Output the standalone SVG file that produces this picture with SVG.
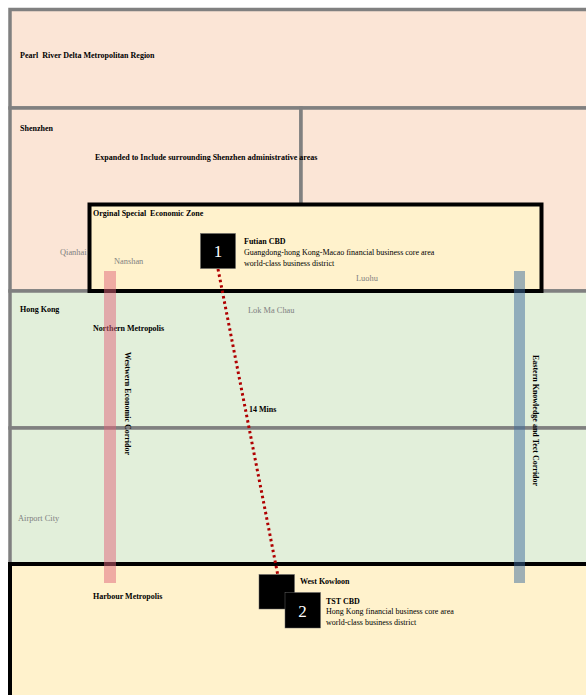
<svg xmlns="http://www.w3.org/2000/svg" width="586" height="695" viewBox="0 0 586 695">
<style>
.region{stroke:#808080;stroke-width:3.5}
.pink{fill:#fbe5d6}
.green{fill:#e2efda}
.yellow{fill:#fff2cc}
.zone{fill:#fff2cc;stroke:#000;stroke-width:4}
.t{font-family:"Liberation Serif","Times New Roman",serif;font-size:8px;fill:#000;white-space:pre}
.b{font-weight:bold}
.g{fill:#808080;font-size:8.4px}
.cbd{fill:#000;stroke:#666;stroke-width:0.5}
.num{font-family:"Liberation Serif","Times New Roman",serif;font-size:17px;fill:#fff;text-anchor:middle}
.bar{opacity:0.5}
</style>
<rect width="586" height="695" fill="#ffffff"/>
<g id="pearl-river">
<rect class="region pink" x="10" y="9.5" width="590" height="98.5"/>
<text class="t b" x="20" y="58" xml:space="preserve">Pearl  River Delta Metropolitan Region</text>
</g>
<g id="shenzhen">
<rect class="region pink" x="10" y="108" width="291" height="183"/>
<rect class="region pink" x="301" y="108" width="300" height="183"/>
<text class="t b" x="20" y="131">Shenzhen</text>
<text class="t b" x="95" y="160">Expanded to Include surrounding Shenzhen administrative areas</text>
<text class="t g" x="60" y="255">Qianhai</text>
</g>
<g id="hong-kong">
<rect class="region green" x="10" y="291" width="590" height="137"/>
<rect class="region green" x="10" y="428" width="590" height="136"/>
<text class="t b" x="20" y="312">Hong Kong</text>
<text class="t g" x="248" y="313">Lok Ma Chau</text>
<text class="t b" x="93" y="331">Northern Metropolis</text>
<text class="t g" x="18" y="521">Airport City</text>
</g>
<g id="sez">
<rect class="zone" x="89.5" y="204.5" width="452" height="86.5"/>
<text class="t b" x="93" y="216" xml:space="preserve">Orginal Special  Economic Zone</text>
<text class="t g" x="114" y="264">Nanshan</text>
<text class="t g" x="356" y="281">Luohu</text>
</g>
<g id="harbour">
<rect class="zone" x="10" y="564" width="590" height="140"/>
<text class="t b" x="93" y="599">Harbour Metropolis</text>
</g>
<g id="connectors">
<line x1="218" y1="269" x2="278" y2="576" stroke="#b00000" stroke-width="3" stroke-dasharray="2.5 3"/>
<text class="t b" x="249" y="412">14 Mins</text>
</g>
<g id="western-corridor">
<rect class="bar" x="104" y="271" width="12" height="312" fill="#e0647a"/>
<text class="t b" transform="translate(125,352) rotate(90)">Westwern Economic Corridor</text>
</g>
<g id="eastern-corridor">
<rect class="bar" x="514" y="271" width="11" height="312" fill="#3d6b9c"/>
<text class="t b" transform="translate(533,355) rotate(90)">Eastern Knowledge and Tect Corridor</text>
</g>
<g id="futian-cbd">
<rect class="cbd" x="200.5" y="233.5" width="35" height="35"/>
<text class="num" x="218" y="257">1</text>
<text class="t b" x="244" y="244">Futian CBD</text>
<text class="t" x="244" y="255">Guangdong-hong Kong-Macao financial business core area</text>
<text class="t" x="244" y="266">world-class business district</text>
</g>
<g id="west-kowloon">
<rect class="cbd" x="259" y="574.5" width="35.5" height="34.5"/>
<text class="t b" x="300" y="584">West Kowloon</text>
</g>
<g id="tst-cbd">
<rect class="cbd" x="285" y="592.5" width="35.5" height="35.5"/>
<text class="num" x="302.5" y="617">2</text>
<text class="t b" x="326" y="604">TST CBD</text>
<text class="t" x="326" y="614">Hong Kong financial business core area</text>
<text class="t" x="326" y="625">world-class business district</text>
</g>
</svg>
